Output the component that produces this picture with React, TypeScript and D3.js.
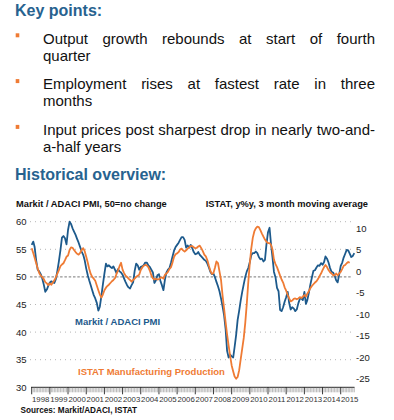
import React, { useEffect, useRef } from 'react'
import * as d3 from 'd3'

// Markit / ADACI PMI, monthly from Jan 1998 to Oct 2015
const pmi = [
  55.8, 56.4, 55.4, 53, 51.3, 51, 50.5, 49.7, 48.6, 47.3, 47.7, 48.4,
  49, 49.2, 49, 48.9, 49.6, 51.1, 52.8, 54.8, 57.1, 57.4, 57, 55.9,
  58.5, 60, 59.6, 58.8, 58.2, 57.6, 56.9, 56.2, 55.4, 54.6, 54, 53,
  51.5, 50.3, 49.4, 48.5, 47.6, 46.7, 46.1, 45.3, 43.9, 44.6, 46.5, 48.6,
  50.6, 52.4, 51.9, 52.1, 51.8, 51.6, 51.9, 51.3, 50.7, 51.4, 51, 50.8,
  50.4, 49.7, 49.1, 48.5, 48.1, 47.9, 48.5, 49, 51.1, 52.4, 52.1, 51.3,
  51.8, 51.9, 52.1, 52.6, 52.6, 52.1, 51.8, 51.3, 50.8, 48.9, 49.4, 50.3,
  50.5, 49.2, 48.5, 47.6, 49.5, 50.8, 51.3, 51.6, 52.6, 53.7, 54.8, 55.4,
  55.8, 56.2, 56.7, 57.2, 57.2, 56.7, 55.3, 55.7, 55.3, 55.8, 55.2, 54.5,
  54.1, 54.2, 54.5, 54, 53.7, 53.4, 53.1, 52.9, 52.4, 51.7, 50.9, 50.5,
  50.6, 49.9, 49.1, 48.3, 47.4, 46.1, 44.7, 43.1, 40.6, 36.6, 35.4, 35.9,
  35.6, 35.4, 37.3, 39.5, 42.2, 43.9, 45.7, 47.3, 48.7, 50, 51, 51.6,
  52.7, 54, 54.3, 54.3, 54.6, 54.3, 53.6, 53.2, 53.3, 52.8, 53.1, 55.9,
  58.1, 58.9, 56.1, 53.6, 50.9, 49.9, 48, 47.4, 44, 43.8, 44.5, 45.5,
  46.3, 47.3, 45.3, 44.1, 44.5, 44.3, 43.8, 44.1, 45.2, 46, 46.1, 45.8,
  47.3, 45.1, 45.8, 47.1, 48.6, 49.9, 51.1, 51.2, 51.7, 52.1, 52, 52.5,
  52.2, 52.7, 53.7, 53.3, 52.6, 51.6, 50.9, 50.8, 50.2, 49.4, 49, 50.4,
  52, 52.6, 53.5, 54.2, 54.9, 54.8, 54.2, 53.6, 53.8, 54.3,
]

// ISTAT manufacturing production, y/y %, 3m average, Jan 1998 to Jul 2015
const istat = [
  5.4, 4.3, 3.2, 1.9, 0.7, -0.4, -1.0, -1.3, -1.8, -2.5, -2.8, -3.2,
  -2.8, -3.1, -2.6, -2.1, -1.4, -0.5, 0.3, 1.2, 1.6, 1.9, 2.6, 3.4,
  3.7, 5.0, 5.6, 5.5, 5.0, 4.5, 4.1, 3.9, 4.3, 5.0, 5.4, 4.7,
  3.4, 2.0, 0.6, -0.6, -1.3, -1.7, -2.2, -3.3, -4.4, -5.4, -6.1, -5.4,
  -4.4, -3.8, -3.4, -3.1, -2.7, -2.3, -2.0, -1.6, -0.6, 0.2, 1.2, 2.0,
  0.4, -0.4, -1.0, -1.3, -1.7, -2.0, -2.4, -2.0, -1.7, -1.3, -1.0, -0.8,
  0.3, 0.9, 1.3, 1.5, 1.4, 1.0, 0.2, -0.9, -1.6, -1.9, -1.7, -1.9,
  -1.8, -1.5, -1.4, -1.7, -0.8, -0.5, -0.1, 0.6, 1.0, 2.1, 3.4, 4.0,
  4.2, 4.5, 5.1, 5.3, 4.9, 4.6, 4.9, 5.3, 5.6, 5.9, 5.9, 5.6,
  5.4, 5.5, 5.8, 6.0, 5.4, 4.7, 3.9, 3.5, 2.6, 1.3, 0.1, -0.6,
  -0.4, 0.9, 2.3, 1.9, 0.0, -2.0, -5.5, -8.6, -11.8, -14.7, -17.3, -19.7,
  -21.9, -23.3, -24.5, -25.0, -24.6, -23.0, -20.5, -18.0, -15.5, -12.0, -7.5, -2.5,
  2.0, 5.5, 7.8, 9.3, 10.0, 10.4, 10.3, 9.6, 8.8, 8.1, 7.4, 6.9,
  6.6, 6.6, 6.2, 5.1, 2.7, 1.7, 1.0, 0.0, -1.0, -1.9, -2.6, -3.7,
  -4.5, -5.5, -6.3, -7.0, -6.8, -6.4, -6.3, -6.5, -6.3, -6.0, -6.2, -5.9,
  -5.5, -5.9, -5.2, -4.6, -3.9, -3.4, -3.0, -2.6, -2.3, -1.8, -1.1, -0.5,
  0.3, 1.0, 1.5, 1.0, 0.3, -0.2, -0.5, -0.9, -0.9, -0.5, -0.9, -0.5,
  -0.1, 0.6, 1.3, 1.5, 1.9, 2.2, 2.0,
]

const yearLabels = ['1998', '1999', '2000', '2001', '2002', '2003', '2004', '2005', '2006',
  '2007', '2008', '2009', '2010', '2011', '2012', '2013', '2014', '2015']
const leftTicks = [60, 55, 50, 45, 40, 35, 30]
const rightTicks = [10, 5, 0, -5, -10, -15, -20, -25]

const bullets = [
  ['Output growth rebounds at start of fourth', 'quarter'],
  ['Employment rises at fastest rate in three', 'months'],
  ['Input prices post sharpest drop in nearly two-and-', 'a-half years'],
]

const FONT = "'Liberation Sans', Arial, Helvetica, sans-serif"
const BLUE = '#1d5a8c'
const ORANGE = '#ef7b34'
const HEAD = '#27628f'

export default function App() {
  const ref = useRef<SVGSVGElement>(null)

  useEffect(() => {
    const svg = d3.select(ref.current)
    svg.selectAll('*').remove()
    svg.style('font-family', FONT)

    // ---- key points
    svg.append('text').attr('x', 15).attr('y', 16)
      .style('font-size', '16px').style('font-weight', 'bold').style('fill', HEAD)
      .text('Key points:')

    const textLeft = 43, textRight = 375
    bullets.forEach((lines, i) => {
      const base = 43.5 + i * 45.8
      svg.append('rect').attr('x', 15.7).attr('y', base - 10.2)
        .attr('width', 3.6).attr('height', 4).style('fill', ORANGE)

      // first line justified word by word
      const words = lines[0].split(' ')
      const g = svg.append('g')
      const nodes = words.map(w => g.append('text').attr('y', base)
        .style('font-size', '15px').style('fill', '#111').text(w))
      const widths = nodes.map(n => (n.node() as SVGTextElement).getComputedTextLength())
      const gap = (textRight - textLeft - d3.sum(widths)) / (words.length - 1)
      let cx = textLeft
      nodes.forEach((n, j) => { n.attr('x', cx); cx += widths[j] + gap })

      svg.append('text').attr('x', textLeft).attr('y', base + 17)
        .style('font-size', '15px').style('fill', '#111').text(lines[1])
    })

    // ---- historical overview
    svg.append('text').attr('x', 15).attr('y', 180)
      .style('font-size', '16px').style('font-weight', 'bold').style('fill', HEAD)
      .text('Historical overview:')

    svg.append('text').attr('x', 16).attr('y', 206.5)
      .style('font-size', '9.3px').style('font-weight', 'bold').style('fill', '#111')
      .text('Markit / ADACI PMI, 50=no change')
    svg.append('text').attr('x', 368).attr('y', 206.5).attr('text-anchor', 'end')
      .style('font-size', '9.3px').style('font-weight', 'bold').style('fill', '#111')
      .text('ISTAT, y%y, 3 month moving average')

    const x = d3.scaleTime()
      .domain([new Date(1998, 0, 1), new Date(2015, 9, 1)])
      .range([31.7, 354.3])
    const yL = d3.scaleLinear().domain([30, 60]).range([387.3, 221.7])
    const yR = d3.scaleLinear().domain([-27, 11.5]).range([387.3, 222])

    // grid
    leftTicks.forEach(t => {
      if (t === 30) return
      svg.append('line').attr('x1', 30).attr('x2', 352)
        .attr('y1', yL(t)).attr('y2', yL(t))
        .style('stroke', t === 50 ? '#555' : '#b5b5b5')
        .style('stroke-width', t === 50 ? 0.8 : 1)
        .style('stroke-dasharray', t === 50 ? '2.5,1.8' : '1,4')
    })

    // left labels
    leftTicks.forEach(t => {
      svg.append('text').attr('x', 26.5).attr('y', yL(t) + 3.4).attr('text-anchor', 'end')
        .style('font-size', '9.5px').style('fill', '#222').text(t)
    })
    // right labels
    rightTicks.forEach(t => {
      svg.append('text').attr('x', 356).attr('y', yR(t) + 3.4)
        .style('font-size', '9.5px').style('fill', '#222').text(t)
    })

    // lines
    const pmiData = pmi.map((v, i) => ({ date: new Date(1998, i, 1), v }))
    const istatData = istat.map((v, i) => ({ date: new Date(1998, i, 1), v }))
    const lineL = d3.line<{ date: Date, v: number }>().x(d => x(d.date)).y(d => yL(d.v))
    const lineR = d3.line<{ date: Date, v: number }>().x(d => x(d.date)).y(d => yR(d.v))

    svg.append('path').datum(pmiData).attr('d', lineL)
      .style('fill', 'none').style('stroke', BLUE).style('stroke-width', 1.8)
      .style('stroke-linejoin', 'round')
    svg.append('path').datum(istatData).attr('d', lineR)
      .style('fill', 'none').style('stroke', ORANGE).style('stroke-width', 1.8)
      .style('stroke-linejoin', 'round')

    // x axis
    const axisY = 387.3
    svg.append('line').attr('x1', 31).attr('x2', 354.5).attr('y1', axisY).attr('y2', axisY)
      .style('stroke', '#222').style('stroke-width', 1)
    const months = d3.timeMonth.range(new Date(1998, 0, 1), new Date(2015, 9, 2))
    svg.selectAll('line.tick').data(months).enter().append('line')
      .attr('class', 'tick')
      .attr('x1', d => x(d)).attr('x2', d => x(d))
      .attr('y1', axisY).attr('y2', d => axisY + (d.getMonth() === 0 ? 7 : 5))
      .style('stroke', d => d.getMonth() === 0 ? '#222' : '#777')
      .style('stroke-width', d => d.getMonth() === 0 ? 0.9 : 0.5)

    yearLabels.forEach(y => {
      svg.append('text').attr('x', x(new Date(+y, 6, 1))).attr('y', 402)
        .attr('text-anchor', 'middle')
        .style('font-size', '7.8px').style('fill', '#333').text(y)
    })

    // series labels
    svg.append('text').attr('x', 75).attr('y', 325)
      .style('font-size', '9.5px').style('font-weight', 'bold').style('fill', BLUE)
      .text('Markit / ADACI PMI')
    svg.append('text').attr('x', 78).attr('y', 375)
      .style('font-size', '9.5px').style('font-weight', 'bold').style('fill', ORANGE)
      .text('ISTAT Manufacturing Production')

    svg.append('text').attr('x', 20.5).attr('y', 413)
      .style('font-size', '8.2px').style('font-weight', 'bold').style('fill', '#111')
      .text('Sources: Markit/ADACI, ISTAT')
  }, [])

  return (
    <svg ref={ref} width={394} height={420}
      style={{ position: 'absolute', left: 0, top: 0, background: '#fff' }} />
  )
}
